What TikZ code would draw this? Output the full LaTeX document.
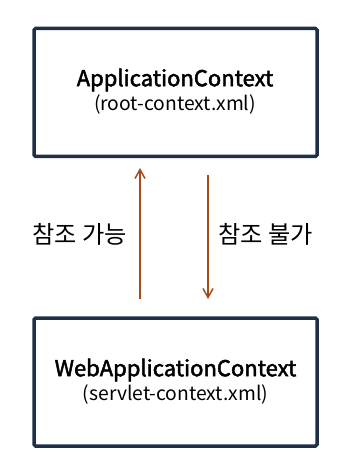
\documentclass[tikz,border=0pt]{standalone}
\usepackage{fontspec}
\setmainfont{Noto Sans CJK KR}
\newfontfamily\titlefont[FakeBold=2.2]{Noto Sans CJK KR}
\usetikzlibrary{
    arrows.meta,
    positioning,
    calc
}
\definecolor{boxline}{HTML}{1F2F45}
\definecolor{refline}{HTML}{A84B1C}
\tikzset{
    % --- Context box (outlined rectangle) ---
    ctxbox/.style = {
        rectangle, draw=boxline, line width=3.5pt,
        rounded corners=1.5pt,
        minimum width=283pt, minimum height=128pt,
        align=center, inner sep=0pt
    },
    % --- Box title ---
    title/.style = {
        font=\titlefont\fontsize{22}{24}\selectfont
    },
    % --- Box subtitle (xml file) ---
    subtitle/.style = {
        font=\fontsize{19.3}{21}\selectfont
    },
    % --- Reference arrow ---
    ref arrow/.style = {
        -{Straight Barb[length=9pt, width=10pt]}, draw=refline, line width=1.5pt
    },
    % --- Arrow label ---
    ref label/.style = {
        font=\fontsize{24.2}{26}\selectfont, inner sep=0pt
    }
}

\begin{document}
\begin{tikzpicture}[x=1pt, y=-1pt]

\useasboundingbox (0, 0) rectangle (341, 473);

% ---------------------------------------------------------
% Context boxes
% ---------------------------------------------------------
\node[ctxbox] (Root) at (175.5, 92.5) {};
\node[title] (RootTitle) at (175, 80) {ApplicationContext};
\node[subtitle] (RootFile) at (175, 104) {(root-context.xml)};

\node[ctxbox, below=158pt of Root] (Web) {};
\node[title] (WebTitle) at ($(Web.center) + (0, -12)$) {WebApplicationContext};
\node[subtitle] (WebFile) at ($(Web.center) + (0, 12)$) {(servlet-context.xml)};

% ---------------------------------------------------------
% Reference arrows
% ---------------------------------------------------------
\coordinate (UpStart) at (140, 299);
\coordinate (UpEnd) at (140, 168);
\coordinate (DownStart) at (208, 175);
\coordinate (DownEnd) at (208, 299);
\draw[ref arrow] (UpStart) -- (UpEnd);
\draw[ref arrow] (DownStart) -- (DownEnd);

\node[ref label, anchor=east] (CanRef) at (127, 234) {참조 가능};
\node[ref label, anchor=west] (CannotRef) at (218, 234) {참조 불가};

\end{tikzpicture}
\end{document}
